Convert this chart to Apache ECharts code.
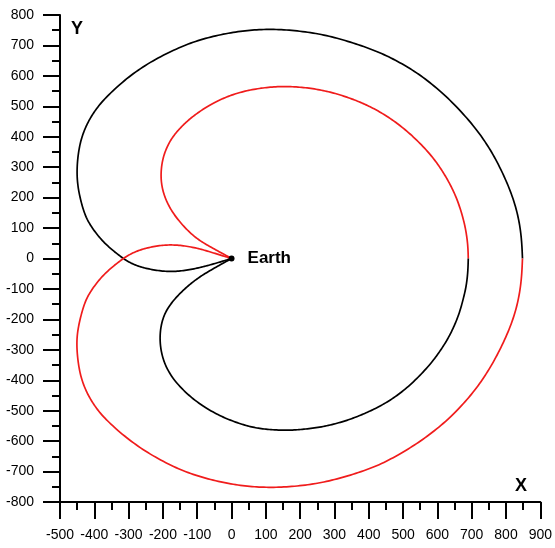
<!DOCTYPE html>
<html>
<head>
<meta charset="utf-8">
<script src="https://cdn.jsdelivr.net/npm/echarts@6/dist/echarts.min.js"></script>
<style>html,body{margin:0;padding:0;background:#fff}#c{width:555px;height:548px}</style>
</head>
<body>
<div id="c"></div>
<script>
// Curve points [x, y]
const blackOuter = [[0,0],[-49,-17],[-92,-30],[-136,-40],[-180,-44],[-223,-39],[-267,-28],[-296,-14],[-316,0],[-355,34],[-386,69],[-413,111],[-428,144],[-442,199],[-451,257],[-450,320],[-442,378],[-431,417],[-416,454],[-394,493],[-366,530],[-307,592],[-238,646],[-160,690],[-92,720],[-15,740],[53,751],[121,754],[199,748],[277,734],[354,709],[432,678],[498,640],[556,599],[626,534],[684,465],[723,411],[762,345],[801,257],[830,170],[845,82],[848,0]];
const redOuter = [[848,0],[845,-82],[830,-172],[801,-258],[762,-345],[723,-413],[684,-468],[626,-536],[556,-597],[498,-638],[432,-679],[354,-710],[277,-734],[199,-748],[121,-753],[53,-750],[-15,-739],[-92,-718],[-160,-690],[-238,-644],[-307,-590],[-366,-530],[-394,-493],[-416,-454],[-431,-417],[-442,-378],[-450,-320],[-452,-258],[-442,-199],[-428,-144],[-413,-111],[-386,-69],[-355,-34],[-316,0],[-296,14],[-267,29],[-223,41],[-180,46],[-136,42],[-92,32],[-49,17],[0,0]];
const redInner = [[0,0],[-45,28],[-92,57],[-124,87],[-150,119],[-172,151],[-190,188],[-201,224],[-206,260],[-205,298],[-199,335],[-187,370],[-171,401],[-149,430],[-121,460],[-88,487],[-52,512],[-5,536],[44,552],[97,562],[150,566],[205,563],[257,555],[308,541],[355,523],[397,503],[434,481],[482,446],[530,401],[578,345],[607,301],[631,257],[652,210],[665,170],[676,128],[683,93],[689,45],[690,0]];
const blackInner = [[690,0],[689,-45],[684,-93],[676,-130],[666,-173],[652,-215],[632,-262],[607,-306],[578,-350],[530,-407],[482,-452],[434,-485],[397,-505],[355,-525],[308,-542],[257,-555],[205,-562],[160,-565],[102,-562],[62,-555],[24,-543],[-30,-520],[-80,-488],[-120,-455],[-160,-411],[-185,-370],[-199,-334],[-207,-295],[-209,-258],[-206,-222],[-198,-190],[-187,-165],[-171,-140],[-150,-114],[-124,-87],[-92,-59],[-45,-28],[0,0]];
const earth = [[0,0]];
const xMin = -500, xMax = 900, yMin = -800, yMax = 800, step = 100;

const FONT = '"Liberation Sans", Arial, sans-serif';
const chart = echarts.init(document.getElementById('c'), null, {renderer:'canvas'});

// smooth rendering of the read points (cubic B-spline through clamped ends)
function bspline(pts, steps){
  const n = pts.length;
  const P = [pts[0], pts[0]].concat(pts, [pts[n-1], pts[n-1]]);
  const out = [];
  for (let i = 0; i < P.length - 3; i++){
    for (let s = 0; s < steps; s++){
      const t = s / steps, it = 1 - t;
      const b0 = it*it*it/6, b1 = (3*t*t*t - 6*t*t + 4)/6, b2 = (-3*t*t*t + 3*t*t + 3*t + 1)/6, b3 = t*t*t/6;
      out.push([
        b0*P[i][0] + b1*P[i+1][0] + b2*P[i+2][0] + b3*P[i+3][0],
        b0*P[i][1] + b1*P[i+1][1] + b2*P[i+2][1] + b3*P[i+3][1]
      ]);
    }
  }
  out.push(pts[n-1]);
  return out;
}
function curveSeries(data, color){
  return {type:'custom', data:data, encode:{x:0, y:1}, animation:false, z:2, silent:true,
    renderItem:function(params, api){
      if (params.dataIndex !== 0) return null;
      const pts = data.map(function(p){ return api.coord(p); });
      return {type:'polyline', shape:{points:bspline(pts, 10)},
        style:{stroke:color, lineWidth:1.7, fill:null, lineJoin:'round'}};
    }};
}
const axisCommon = {
  axisLine:{onZero:false, lineStyle:{color:'#000', width:2}},
  axisTick:{show:true, inside:false, length:17, lineStyle:{color:'#000', width:2}},
  minorTick:{show:true, splitNumber:2, length:8, lineStyle:{color:'#000', width:2}},
  splitLine:{show:false},
  axisLabel:{color:'#000', fontSize:14, fontFamily:FONT, margin:26, showMinLabel:true, showMaxLabel:true}
};
chart.setOption({
  backgroundColor:'#fff',
  animation:false,
  grid:{left:60, right:14, top:15, bottom:46, containLabel:false},
  xAxis:Object.assign({type:'value', min:xMin, max:xMax, interval:step, position:'bottom'}, axisCommon),
  yAxis:Object.assign({type:'value', min:yMin, max:yMax, interval:step, position:'left'}, axisCommon),
  series:[
    curveSeries(blackOuter,'#000'),
    curveSeries(redOuter,'#f01c1c'),
    curveSeries(redInner,'#f01c1c'),
    curveSeries(blackInner,'#000'),
    {type:'scatter', data:earth, symbol:'circle', symbolSize:6, itemStyle:{color:'#000', opacity:1}, z:5,
     label:{show:true, position:'right', distance:13, formatter:'Earth', color:'#000', opacity:1,
       fontSize:17, fontWeight:'bold', fontFamily:FONT}}
  ],
  graphic:[
    {type:'text', left:71, top:20, style:{text:'Y', fill:'#000', font:'bold 18px '+FONT}},
    {type:'text', left:515, top:477, style:{text:'X', fill:'#000', font:'bold 18px '+FONT}}
  ]
});
</script>
</body>
</html>
